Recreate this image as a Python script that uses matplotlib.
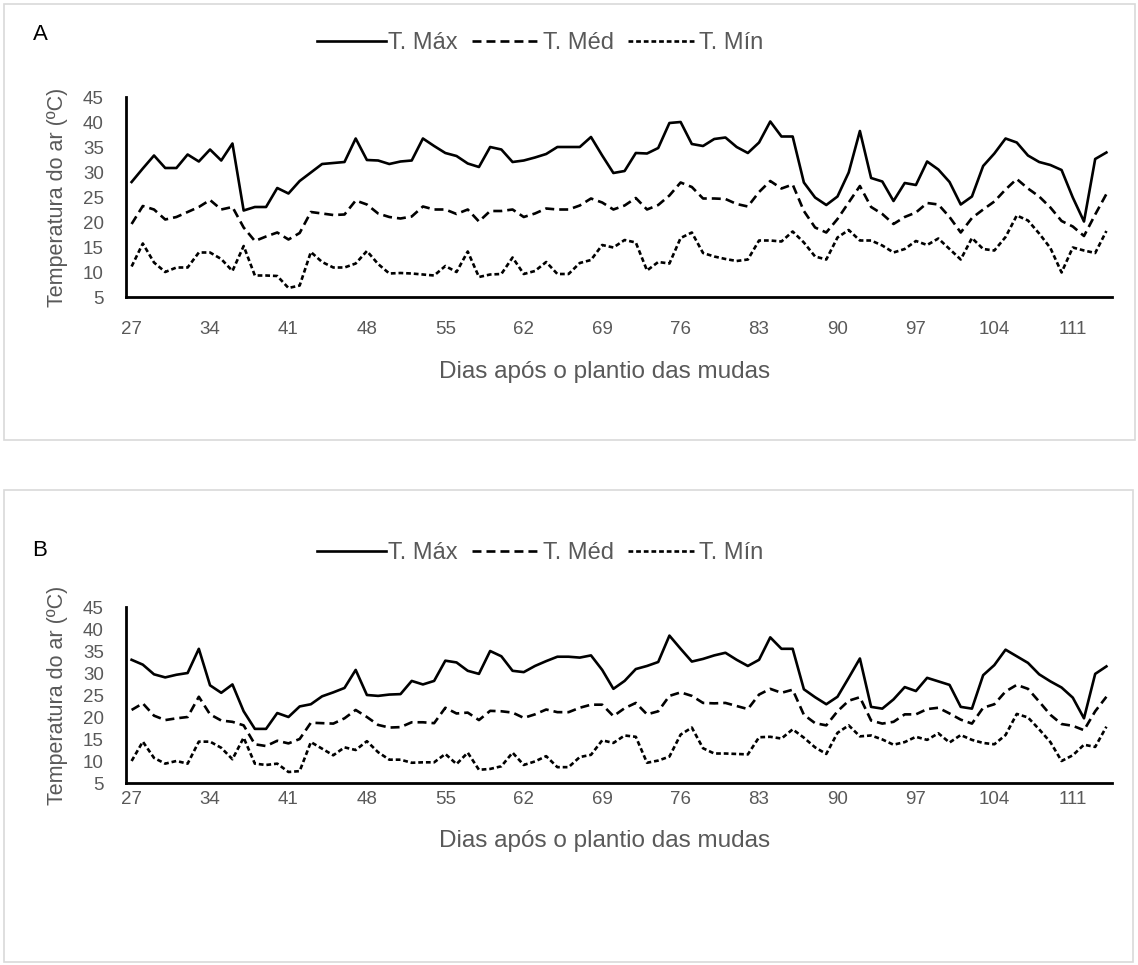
import matplotlib
matplotlib.use("Agg")
import matplotlib.pyplot as plt
from matplotlib.patches import Rectangle

plt.rcParams['font.family'] = ['Liberation Sans', 'DejaVu Sans']

# dias após o plantio
dias = list(range(27, 115))
ticks = list(range(27, 112, 7))

# Painel A
max_a = [28.0, 30.7, 33.3, 30.8, 30.8, 33.5, 32.1, 34.5, 32.3, 35.7,
         22.3, 23.0, 23.0, 26.8, 25.7, 28.2, 29.9, 31.6, 31.8, 32.0,
         36.7, 32.4, 32.3, 31.6, 32.1, 32.3, 36.7, 35.2, 33.8, 33.2,
         31.7, 31.0, 35.0, 34.5, 32.0, 32.3, 32.9, 33.6, 35.0, 35.0,
         35.0, 37.0, 33.3, 29.8, 30.2, 33.8, 33.7, 34.8, 39.8, 40.0,
         35.6, 35.2, 36.6, 36.9, 35.0, 33.8, 35.9, 40.1, 37.1, 37.1,
         27.9, 24.9, 23.4, 25.1, 29.9, 38.2, 28.8, 28.1, 24.2, 27.8,
         27.4, 32.1, 30.5, 28.0, 23.5, 25.1, 31.2, 33.7, 36.7, 35.9,
         33.3, 32.0, 31.4, 30.4, 24.9, 20.1, 32.6, 33.9]
med_a = [19.6, 23.2, 22.5, 20.5, 21.0, 22.0, 23.0, 24.4, 22.5, 23.0,
         18.9, 16.2, 17.1, 17.9, 16.5, 17.8, 22.0, 21.7, 21.4, 21.5,
         24.3, 23.5, 21.7, 21.0, 20.7, 21.1, 23.1, 22.5, 22.5, 21.6,
         22.5, 20.1, 22.2, 22.2, 22.5, 21.0, 21.7, 22.7, 22.5, 22.5,
         23.3, 24.7, 23.9, 22.5, 23.3, 24.8, 22.5, 23.4, 25.3, 27.9,
         27.0, 24.7, 24.7, 24.6, 23.6, 23.1, 26.0, 28.2, 26.7, 27.5,
         22.2, 18.9, 17.9, 20.6, 23.9, 27.2, 23.0, 21.6, 19.6, 21.0,
         21.9, 23.8, 23.5, 21.0, 17.9, 20.8, 22.5, 24.1, 26.5, 28.6,
         26.7, 25.1, 22.9, 20.2, 19.1, 17.2, 21.5, 25.6]
min_a = [11.1, 15.7, 11.9, 10.0, 10.9, 10.9, 13.9, 13.9, 12.6, 10.2,
         15.2, 9.3, 9.3, 9.2, 6.8, 7.3, 14.0, 12.0, 10.9, 10.9,
         11.7, 14.2, 11.6, 9.7, 9.8, 9.7, 9.5, 9.3, 11.2, 10.0,
         14.1, 9.0, 9.5, 9.6, 12.9, 9.6, 10.2, 12.0, 9.6, 9.6,
         11.8, 12.4, 15.4, 14.9, 16.4, 15.9, 10.3, 12.0, 11.7, 16.8,
         17.9, 13.8, 13.1, 12.6, 12.2, 12.5, 16.3, 16.3, 16.1, 18.1,
         15.9, 13.1, 12.5, 16.9, 18.4, 16.3, 16.3, 15.3, 13.9, 14.6,
         16.2, 15.4, 16.7, 14.6, 12.5, 16.8, 14.6, 14.3, 17.0, 21.3,
         20.3, 17.7, 14.8, 9.9, 14.9, 14.3, 13.8, 18.2]

# Painel B
max_b = [33.0, 31.9, 29.7, 29.0, 29.6, 30.0, 35.5, 27.2, 25.5, 27.4,
         21.3, 17.3, 17.3, 20.9, 20.0, 22.4, 22.9, 24.7, 25.6, 26.6,
         30.7, 25.0, 24.8, 25.1, 25.2, 28.2, 27.4, 28.2, 32.8, 32.4,
         30.5, 29.8, 35.0, 33.8, 30.5, 30.2, 31.6, 32.7, 33.7, 33.7,
         33.5, 34.0, 30.7, 26.4, 28.2, 30.9, 31.6, 32.5, 38.5, 35.5,
         32.6, 33.2, 34.0, 34.6, 33.0, 31.6, 33.0, 38.1, 35.5, 35.5,
         26.3, 24.5, 22.9, 24.6, 28.9, 33.3, 22.3, 21.9, 24.0, 26.8,
         25.9, 28.9, 28.1, 27.3, 22.3, 21.9, 29.5, 31.8, 35.3, 33.8,
         32.3, 29.7, 28.1, 26.7, 24.4, 19.7, 29.8, 31.5]
med_b = [21.6, 23.1, 20.3, 19.3, 19.7, 20.0, 24.6, 20.6, 19.2, 18.9,
         18.1, 13.8, 13.4, 14.6, 14.0, 15.0, 18.7, 18.6, 18.5, 19.7,
         21.6, 20.0, 18.2, 17.6, 17.7, 18.8, 18.8, 18.6, 22.1, 20.8,
         21.0, 19.3, 21.4, 21.3, 21.0, 19.8, 20.6, 21.7, 21.1, 21.1,
         22.1, 22.8, 22.8, 20.2, 22.0, 23.2, 20.6, 21.3, 24.8, 25.6,
         24.8, 23.2, 23.1, 23.2, 22.5, 21.8, 25.1, 26.4, 25.5, 26.2,
         20.5, 18.6, 18.1, 21.3, 23.7, 24.5, 19.2, 18.5, 18.9, 20.6,
         20.6, 21.8, 22.1, 20.8, 19.4, 18.5, 22.1, 22.9, 25.8, 27.3,
         26.4, 23.5, 20.5, 18.4, 18.0, 17.0, 21.3, 24.6]
min_b = [10.0, 14.4, 10.7, 9.4, 10.0, 9.4, 14.4, 14.4, 13.0, 10.4,
         15.3, 9.4, 9.1, 9.4, 7.5, 7.7, 14.3, 12.8, 11.3, 13.1,
         12.5, 14.5, 12.0, 10.3, 10.3, 9.6, 9.7, 9.7, 11.6, 9.3,
         11.9, 8.0, 8.2, 8.8, 11.9, 9.1, 9.9, 11.1, 8.6, 8.6,
         10.9, 11.4, 14.7, 14.1, 15.8, 15.5, 9.6, 10.1, 11.0, 16.0,
         17.6, 12.9, 11.7, 11.7, 11.6, 11.5, 15.4, 15.5, 15.1, 17.2,
         15.3, 13.1, 11.6, 16.4, 18.1, 15.6, 15.8, 14.9, 13.7, 14.3,
         15.5, 14.8, 16.3, 14.2, 15.9, 14.8, 14.1, 13.8, 15.9, 20.7,
         19.9, 17.2, 14.3, 10.0, 11.3, 13.7, 13.2, 17.8]

W, H = 1138, 965
cinza = '#595959'

fig = plt.figure(figsize=(W / 100, H / 100), dpi=100)

# molduras dos dois gráficos
for (x0, y0, x1, y1) in [(4, 4, 1135, 440), (4, 490, 1133, 962)]:
    fig.patches.append(Rectangle((x0 / W, 1 - y1 / H), (x1 - x0) / W, (y1 - y0) / H,
                                 transform=fig.transFigure, fill=False,
                                 edgecolor='#d9d9d9', linewidth=1.2))


def painel(top, bottom, letra, tmax, tmed, tmin, pad, xtit, ytexto):
    left, right = 126, 1112
    ax = fig.add_axes([left / W, 1 - bottom / H, (right - left) / W, (bottom - top) / H])
    l1, = ax.plot(dias, tmax, color='black', lw=1.9, label='T. Máx')
    l2, = ax.plot(dias, tmed, color='black', lw=1.9, linestyle=(0, (3.4, 1.9)), label='T. Méd')
    l3, = ax.plot(dias, tmin, color='black', lw=1.9, linestyle=(0, (1.8, 1.1)), label='T. Mín')
    ax.set_xlim(26.5, 114.5)
    ax.set_ylim(5, 45)
    ax.set_yticks(range(5, 46, 5))
    ax.set_xticks(ticks)
    ax.tick_params(length=0, colors=cinza, labelsize=13.5)
    ax.tick_params(axis='x', pad=pad)
    ax.tick_params(axis='y', pad=16)
    for s in ['top', 'right']:
        ax.spines[s].set_visible(False)
    ax.spines['left'].set_linewidth(2)
    ax.spines['bottom'].set_linewidth(2)
    ax.set_xlabel('Dias após o plantio das mudas', fontsize=17.5, color=cinza)
    ax.set_ylabel('Temperatura do ar (ºC)', fontsize=15.5, color=cinza)
    h = bottom - top
    ax.xaxis.set_label_coords((605 - left) / (right - left), -(xtit - bottom) / h)
    ax.xaxis.label.set_va('center')
    ax.yaxis.set_label_coords((57 - left) / (right - left), 0.5)
    ax.yaxis.label.set_va('center')
    fig.text(40 / W, 1 - ytexto / H, letra, fontsize=16, ha='center', va='center')
    ax.legend(handles=[l1, l2, l3], loc='center', ncol=3, frameon=False,
              bbox_to_anchor=(540 / W, 1 - (top - 54) / H), bbox_transform=fig.transFigure,
              fontsize=17, labelcolor=cinza, handlelength=2.9, handletextpad=0.1,
              columnspacing=0.6)
    return ax


painel(97, 297, 'A', max_a, med_a, min_a, 17, 372, 35)
painel(607, 783, 'B', max_b, med_b, min_b, 6, 841, 551)

fig.savefig('out.png', dpi=100)
